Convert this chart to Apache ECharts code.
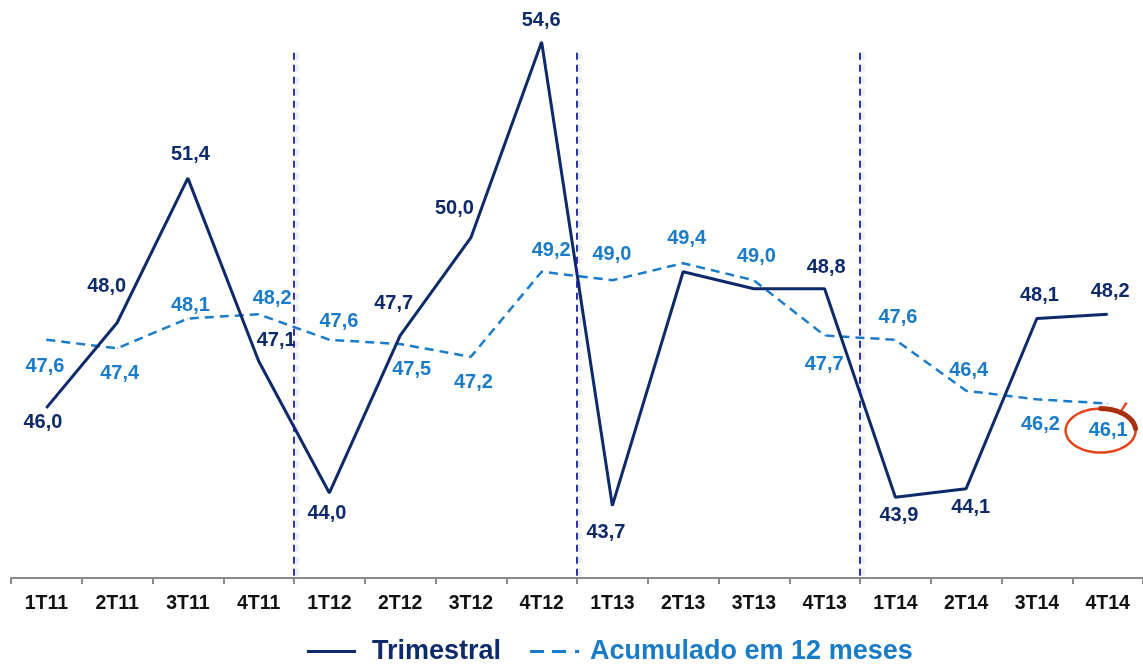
<!DOCTYPE html>
<html>
<head>
<meta charset="utf-8">
<script src="https://cdn.jsdelivr.net/npm/echarts@6/dist/echarts.min.js"></script>
<style>html,body{margin:0;padding:0;background:#fff;}#c{width:1143px;height:666px;}</style>
</head>
<body>
<div id="c"></div>
<script>
const categories = ['1T11','2T11','3T11','4T11','1T12','2T12','3T12','4T12','1T13','2T13','3T13','4T13','1T14','2T14','3T14','4T14'];
const trimestral = [46.0, 48.0, 51.4, 47.1, 44.0, 47.7, 50.0, 54.6, 43.7, 49.2, 48.8, 48.8, 43.9, 44.1, 48.1, 48.2];
const acumulado = [47.6, 47.4, 48.1, 48.2, 47.6, 47.5, 47.2, 49.2, 49.0, 49.4, 49.0, 47.7, 47.6, 46.4, 46.2, 46.1];
const trimLabelShown = [true,true,true,true,true,true,true,true,true,false,false,true,true,true,true,true];
const separators = [3.5, 7.5, 11.5];

// label placement (style): offset of label centre from the data point
const trimLabelOffset = [[-3,15],[-10,-36],[3,-23],[18,-20],[-2,21],[-6,-32],[-16,-29],[0,-21],[-6,27],[0,0],[0,0],[2,-21],[4,19],[5,19],[3,-23],[3,-22]];
const acuLabelOffset = [[-1,27],[3,26],[3,-13],[14,-15],[10,-18],[12,26],[3,26],[10,-21],[0,-25],[4,-24],[3,-23],[0,29],[3,-22],[3,-20],[4,26],[1,27]];

const NAVY = '#0e2a6a';
const LBLUE = '#1a7cc8';
const FONT = '"Liberation Sans", Arial, sans-serif';

const chart = echarts.init(document.getElementById('c'));
const fmt = v => v.toFixed(1).replace('.', ',');

const trimData = trimestral.map((v, i) => ({
  value: v,
  label: { show: trimLabelShown[i], position: trimLabelOffset[i], formatter: () => fmt(v) }
}));
const acuData = acumulado.map((v, i) => ({
  value: v,
  label: { show: true, position: acuLabelOffset[i], formatter: () => fmt(v) }
}));

chart.setOption({
  animation: false,
  grid: { left: 11, right: -2, top: 25, bottom: 88, containLabel: false },
  xAxis: [{
    type: 'category',
    data: categories,
    boundaryGap: true,
    axisLine: { lineStyle: { color: '#8a8a8a', width: 2 } },
    axisTick: { show: true, length: 6, lineStyle: { color: '#8a8a8a', width: 2 } },
    axisLabel: { color: '#111', fontWeight: 'bold', fontSize: 19.5, fontFamily: FONT, margin: 16 }
  }, {
    type: 'value', min: -0.5, max: 15.5, show: false
  }],
  yAxis: { type: 'value', min: 42, max: 55, show: false, splitLine: { show: false } },
  legend: {
    top: 633,
    left: 302,
    itemWidth: 49,
    itemHeight: 14,
    itemGap: 29,
    textStyle: { fontSize: 27, fontWeight: 'bold', fontFamily: FONT },
    data: [
      { name: 'Trimestral', icon: 'path://M0,0h48v3h-48z', textStyle: { color: NAVY, padding: [0, 0, 0, 11] } },
      { name: 'Acumulado em 12 meses', icon: 'path://M0,0h14v3h-14z M22,0h14v3h-14z M45,0h4v3h-4z', textStyle: { color: LBLUE, padding: [0, 0, 0, 6] } }
    ]
  },
  series: [{
    name: 'Trimestral',
    type: 'line',
    data: trimData,
    symbol: 'circle',
    symbolSize: 1,
    showSymbol: true,
    clip: false,
    lineStyle: { color: NAVY, width: 3 },
    itemStyle: { color: NAVY },
    label: { color: NAVY, fontWeight: 'bold', fontSize: 20, fontFamily: FONT, align: 'center', verticalAlign: 'middle' },
    labelLayout: { hideOverlap: false },
    z: 3
  }, {
    name: 'Acumulado em 12 meses',
    type: 'line',
    data: acuData,
    symbol: 'circle',
    symbolSize: 1,
    showSymbol: true,
    clip: false,
    lineStyle: { color: LBLUE, width: 2.5, type: [9, 6] },
    itemStyle: { color: LBLUE },
    label: { color: LBLUE, fontWeight: 'bold', fontSize: 20, fontFamily: FONT, align: 'center', verticalAlign: 'middle' },
    z: 2
  }, {
    name: 'sep',
    type: 'line',
    xAxisIndex: 1,
    data: [],
    silent: true,
    markLine: {
      symbol: 'none',
      silent: true,
      label: { show: false },
      lineStyle: { color: '#1c1ca0', width: 1.8, type: [7, 5], shadowColor: 'rgba(0,0,0,0.18)', shadowBlur: 3, shadowOffsetX: 3 },
      data: separators.map(s => [{ coord: [s, 54.35] }, { coord: [s, 42] }])
    }
  }]
});

// hand-drawn style highlight around the last accumulated value
const last = categories.length - 1;
const p = chart.convertToPixel({ xAxisIndex: 0, yAxisIndex: 0 }, [last, acumulado[last]]);
const cx = p[0] - 7, cy = p[1] + 27, rx = 35, ry = 22;
const arcPts = (a0, a1, n) => {
  const pts = [];
  for (let k = 0; k <= n; k++) {
    const a = (a0 + (a1 - a0) * k / n) * Math.PI / 180;
    pts.push([cx + rx * Math.cos(a), cy + ry * Math.sin(a)]);
  }
  return pts;
};
const thin = arcPts(-60, 300, 72);
thin[0] = [cx + 26, cy - 28];
chart.setOption({
  graphic: [{
    type: 'polyline',
    shape: { points: thin, smooth: 0.3 },
    style: { fill: 'none', stroke: '#e4451c', lineWidth: 2.5 },
    z: 10
  }, {
    type: 'polyline',
    shape: { points: arcPts(-90, -5, 20), smooth: 0.3 },
    style: { fill: 'none', stroke: '#a8300f', lineWidth: 5, lineCap: 'round' },
    z: 11
  }]
});
</script>
</body>
</html>
